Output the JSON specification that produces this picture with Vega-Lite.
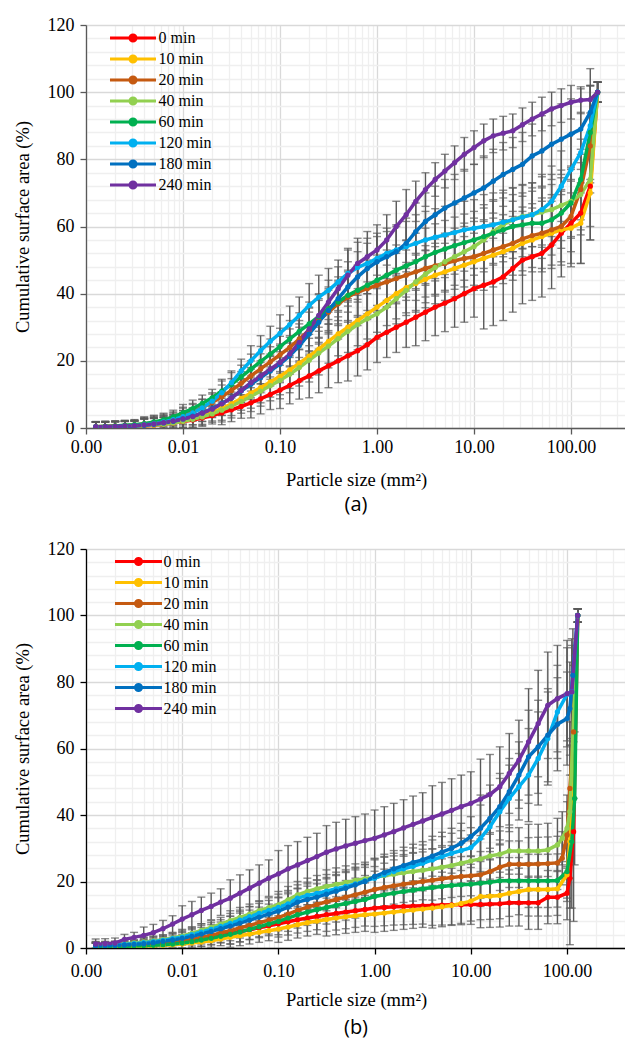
{
"$schema":"https://vega.github.io/schema/vega-lite/v6.json",
"background":"white",
"padding":{"left":13,"top":16,"right":0,"bottom":0},
"config":{"view":{"stroke":null},"font":"Liberation Serif"},
"columns":1,
"spacing":25,
"resolve":{"scale":{"color":"independent","x":"independent","y":"independent"},"legend":{"color":"independent"}},
"datasets":{
"a":[
{"s":0,"x":0.00126,"y":0.2,"e":1.5},{"s":0,"x":0.00158,"y":0.2,"e":1.5},{"s":0,"x":0.002,"y":0.3,"e":1.5},{"s":0,"x":0.00251,"y":0.4,"e":1.5},{"s":0,"x":0.00316,"y":0.5,"e":1.5},{"s":0,"x":0.00398,"y":0.6,"e":2},{"s":0,"x":0.00501,"y":0.8,"e":2},{"s":0,"x":0.00631,"y":1.1,"e":2},{"s":0,"x":0.00794,"y":1.5,"e":2},{"s":0,"x":0.01,"y":1.9,"e":2.5},{"s":0,"x":0.0126,"y":2.4,"e":2.5},{"s":0,"x":0.0158,"y":3,"e":2.5},{"s":0,"x":0.02,"y":3.7,"e":2.5},{"s":0,"x":0.0251,"y":4.5,"e":3.5},{"s":0,"x":0.0316,"y":5.4,"e":3.5},{"s":0,"x":0.0398,"y":6.4,"e":3.5},{"s":0,"x":0.0501,"y":7.5,"e":4.5},{"s":0,"x":0.0631,"y":8.7,"e":4.5},{"s":0,"x":0.0794,"y":10,"e":4.5},{"s":0,"x":0.1,"y":11.3,"e":5.5},{"s":0,"x":0.126,"y":12.7,"e":5.5},{"s":0,"x":0.158,"y":14.1,"e":5.5},{"s":0,"x":0.2,"y":15.5,"e":6.5},{"s":0,"x":0.251,"y":17,"e":6.5},{"s":0,"x":0.316,"y":18.5,"e":6.5},{"s":0,"x":0.398,"y":20,"e":6.5},{"s":0,"x":0.501,"y":21.5,"e":7.5},{"s":0,"x":0.631,"y":23,"e":7.5},{"s":0,"x":0.794,"y":24.8,"e":7.5},{"s":0,"x":1,"y":27,"e":7.5},{"s":0,"x":1.26,"y":28.5,"e":7.5},{"s":0,"x":1.58,"y":30,"e":7.5},{"s":0,"x":2,"y":31.5,"e":7.5},{"s":0,"x":2.51,"y":33,"e":8.5},{"s":0,"x":3.16,"y":34.5,"e":8.5},{"s":0,"x":3.98,"y":36,"e":8.5},{"s":0,"x":5.01,"y":37.2,"e":8.5},{"s":0,"x":6.31,"y":38.5,"e":8.5},{"s":0,"x":7.94,"y":40,"e":8.5},{"s":0,"x":10,"y":41.5,"e":8.5},{"s":0,"x":12.6,"y":42.5,"e":13},{"s":0,"x":15.8,"y":43.5,"e":13},{"s":0,"x":20,"y":45,"e":13},{"s":0,"x":25.1,"y":47.5,"e":13},{"s":0,"x":31.6,"y":50,"e":13},{"s":0,"x":39.8,"y":51,"e":13},{"s":0,"x":50.1,"y":52,"e":13},{"s":0,"x":63.1,"y":54.5,"e":13},{"s":0,"x":79.4,"y":58,"e":13},{"s":0,"x":100,"y":61,"e":13},{"s":0,"x":126,"y":64,"e":15},{"s":0,"x":158,"y":72,"e":16},{"s":0,"x":188,"y":100,"e":3},
{"s":10,"x":0.00126,"y":0.3,"e":1.5},{"s":10,"x":0.00158,"y":0.3,"e":1.5},{"s":10,"x":0.002,"y":0.4,"e":1.5},{"s":10,"x":0.00251,"y":0.5,"e":1.5},{"s":10,"x":0.00316,"y":0.6,"e":1.5},{"s":10,"x":0.00398,"y":0.7,"e":2},{"s":10,"x":0.00501,"y":0.9,"e":2},{"s":10,"x":0.00631,"y":1.2,"e":2},{"s":10,"x":0.00794,"y":1.6,"e":2},{"s":10,"x":0.01,"y":2.1,"e":2.5},{"s":10,"x":0.0126,"y":2.8,"e":2.5},{"s":10,"x":0.0158,"y":3.6,"e":2.5},{"s":10,"x":0.02,"y":4.6,"e":2.5},{"s":10,"x":0.0251,"y":5.8,"e":3.5},{"s":10,"x":0.0316,"y":7.2,"e":3.5},{"s":10,"x":0.0398,"y":8.8,"e":3.5},{"s":10,"x":0.0501,"y":10.4,"e":4.5},{"s":10,"x":0.0631,"y":12,"e":4.5},{"s":10,"x":0.0794,"y":13.7,"e":4.5},{"s":10,"x":0.1,"y":15.4,"e":5.5},{"s":10,"x":0.126,"y":17.3,"e":5.5},{"s":10,"x":0.158,"y":19.3,"e":5.5},{"s":10,"x":0.2,"y":21.4,"e":6.5},{"s":10,"x":0.251,"y":23.5,"e":6.5},{"s":10,"x":0.316,"y":25.8,"e":6.5},{"s":10,"x":0.398,"y":28,"e":6.5},{"s":10,"x":0.501,"y":30,"e":7.5},{"s":10,"x":0.631,"y":32,"e":7.5},{"s":10,"x":0.794,"y":34,"e":7.5},{"s":10,"x":1,"y":36,"e":7.5},{"s":10,"x":1.26,"y":38,"e":7.5},{"s":10,"x":1.58,"y":40,"e":7.5},{"s":10,"x":2,"y":41.8,"e":7.5},{"s":10,"x":2.51,"y":43,"e":8.5},{"s":10,"x":3.16,"y":44.3,"e":8.5},{"s":10,"x":3.98,"y":45.5,"e":8.5},{"s":10,"x":5.01,"y":46.5,"e":8.5},{"s":10,"x":6.31,"y":47.5,"e":8.5},{"s":10,"x":7.94,"y":48.5,"e":8.5},{"s":10,"x":10,"y":49.5,"e":8.5},{"s":10,"x":12.6,"y":50.5,"e":9.5},{"s":10,"x":15.8,"y":51.5,"e":9.5},{"s":10,"x":20,"y":52.5,"e":9.5},{"s":10,"x":25.1,"y":53.5,"e":9.5},{"s":10,"x":31.6,"y":55,"e":9.5},{"s":10,"x":39.8,"y":56,"e":9.5},{"s":10,"x":50.1,"y":57,"e":10.5},{"s":10,"x":63.1,"y":58,"e":10.5},{"s":10,"x":79.4,"y":59,"e":10.5},{"s":10,"x":100,"y":59.5,"e":10.5},{"s":10,"x":126,"y":61,"e":12},{"s":10,"x":158,"y":70,"e":14},{"s":10,"x":188,"y":100,"e":3},
{"s":20,"x":0.00126,"y":0.4,"e":1.5},{"s":20,"x":0.00158,"y":0.5,"e":1.5},{"s":20,"x":0.002,"y":0.6,"e":1.5},{"s":20,"x":0.00251,"y":0.7,"e":1.5},{"s":20,"x":0.00316,"y":0.9,"e":1.5},{"s":20,"x":0.00398,"y":1.2,"e":2},{"s":20,"x":0.00501,"y":1.6,"e":2},{"s":20,"x":0.00631,"y":2.1,"e":2},{"s":20,"x":0.00794,"y":2.8,"e":2},{"s":20,"x":0.01,"y":3.7,"e":2.5},{"s":20,"x":0.0126,"y":4.8,"e":2.5},{"s":20,"x":0.0158,"y":6.1,"e":2.5},{"s":20,"x":0.02,"y":7.6,"e":2.5},{"s":20,"x":0.0251,"y":9.3,"e":3.5},{"s":20,"x":0.0316,"y":11.2,"e":3.5},{"s":20,"x":0.0398,"y":13.3,"e":3.5},{"s":20,"x":0.0501,"y":15.5,"e":4.5},{"s":20,"x":0.0631,"y":17.6,"e":4.5},{"s":20,"x":0.0794,"y":19.7,"e":4.5},{"s":20,"x":0.1,"y":21.8,"e":5.5},{"s":20,"x":0.126,"y":24,"e":5.5},{"s":20,"x":0.158,"y":26.5,"e":5.5},{"s":20,"x":0.2,"y":29.2,"e":6.5},{"s":20,"x":0.251,"y":32,"e":6.5},{"s":20,"x":0.316,"y":34.5,"e":6.5},{"s":20,"x":0.398,"y":37,"e":6.5},{"s":20,"x":0.501,"y":39,"e":7.5},{"s":20,"x":0.631,"y":40.5,"e":7.5},{"s":20,"x":0.794,"y":41.5,"e":7.5},{"s":20,"x":1,"y":42.5,"e":7.5},{"s":20,"x":1.26,"y":43.5,"e":7.5},{"s":20,"x":1.58,"y":44.5,"e":7.5},{"s":20,"x":2,"y":45.5,"e":7.5},{"s":20,"x":2.51,"y":46.5,"e":8.5},{"s":20,"x":3.16,"y":47.5,"e":8.5},{"s":20,"x":3.98,"y":48.3,"e":8.5},{"s":20,"x":5.01,"y":49,"e":8.5},{"s":20,"x":6.31,"y":49.8,"e":8.5},{"s":20,"x":7.94,"y":50.5,"e":8.5},{"s":20,"x":10,"y":51,"e":8.5},{"s":20,"x":12.6,"y":52,"e":9.5},{"s":20,"x":15.8,"y":53,"e":9.5},{"s":20,"x":20,"y":54,"e":9.5},{"s":20,"x":25.1,"y":55,"e":9.5},{"s":20,"x":31.6,"y":56.3,"e":9.5},{"s":20,"x":39.8,"y":57.3,"e":9.5},{"s":20,"x":50.1,"y":58,"e":10.5},{"s":20,"x":63.1,"y":59,"e":10.5},{"s":20,"x":79.4,"y":60,"e":10.5},{"s":20,"x":100,"y":63,"e":10.5},{"s":20,"x":126,"y":71,"e":12},{"s":20,"x":158,"y":84,"e":14},{"s":20,"x":188,"y":100,"e":3},
{"s":40,"x":0.00126,"y":0.3,"e":1.5},{"s":40,"x":0.00158,"y":0.3,"e":1.5},{"s":40,"x":0.002,"y":0.4,"e":1.5},{"s":40,"x":0.00251,"y":0.5,"e":1.5},{"s":40,"x":0.00316,"y":0.6,"e":1.5},{"s":40,"x":0.00398,"y":0.7,"e":2},{"s":40,"x":0.00501,"y":0.9,"e":2},{"s":40,"x":0.00631,"y":1.1,"e":2},{"s":40,"x":0.00794,"y":1.5,"e":2},{"s":40,"x":0.01,"y":2,"e":2.5},{"s":40,"x":0.0126,"y":2.6,"e":2.5},{"s":40,"x":0.0158,"y":3.3,"e":2.5},{"s":40,"x":0.02,"y":4.2,"e":2.5},{"s":40,"x":0.0251,"y":5.3,"e":3.5},{"s":40,"x":0.0316,"y":6.5,"e":3.5},{"s":40,"x":0.0398,"y":7.9,"e":3.5},{"s":40,"x":0.0501,"y":9.4,"e":4.5},{"s":40,"x":0.0631,"y":11,"e":4.5},{"s":40,"x":0.0794,"y":12.6,"e":4.5},{"s":40,"x":0.1,"y":14.2,"e":5.5},{"s":40,"x":0.126,"y":16,"e":5.5},{"s":40,"x":0.158,"y":18,"e":5.5},{"s":40,"x":0.2,"y":20.2,"e":6.5},{"s":40,"x":0.251,"y":22.3,"e":6.5},{"s":40,"x":0.316,"y":24.4,"e":6.5},{"s":40,"x":0.398,"y":26.6,"e":6.5},{"s":40,"x":0.501,"y":28.8,"e":7.5},{"s":40,"x":0.631,"y":30.8,"e":7.5},{"s":40,"x":0.794,"y":32.5,"e":7.5},{"s":40,"x":1,"y":34,"e":7.5},{"s":40,"x":1.26,"y":36,"e":7.5},{"s":40,"x":1.58,"y":38.5,"e":7.5},{"s":40,"x":2,"y":41,"e":7.5},{"s":40,"x":2.51,"y":43.5,"e":8.5},{"s":40,"x":3.16,"y":45.8,"e":8.5},{"s":40,"x":3.98,"y":47.8,"e":8.5},{"s":40,"x":5.01,"y":49.5,"e":8.5},{"s":40,"x":6.31,"y":51,"e":8.5},{"s":40,"x":7.94,"y":52.5,"e":8.5},{"s":40,"x":10,"y":54,"e":8.5},{"s":40,"x":12.6,"y":56,"e":9.5},{"s":40,"x":15.8,"y":58.5,"e":9.5},{"s":40,"x":20,"y":60.5,"e":9.5},{"s":40,"x":25.1,"y":62,"e":9.5},{"s":40,"x":31.6,"y":63,"e":9.5},{"s":40,"x":39.8,"y":63.5,"e":9.5},{"s":40,"x":50.1,"y":64.3,"e":10.5},{"s":40,"x":63.1,"y":65,"e":10.5},{"s":40,"x":79.4,"y":66.3,"e":10.5},{"s":40,"x":100,"y":67.5,"e":10.5},{"s":40,"x":126,"y":69.5,"e":12},{"s":40,"x":158,"y":74,"e":14},{"s":40,"x":188,"y":100,"e":3},
{"s":60,"x":0.00126,"y":0.4,"e":1.5},{"s":60,"x":0.00158,"y":0.5,"e":1.5},{"s":60,"x":0.002,"y":0.6,"e":1.5},{"s":60,"x":0.00251,"y":0.8,"e":1.5},{"s":60,"x":0.00316,"y":1,"e":1.5},{"s":60,"x":0.00398,"y":1.3,"e":2},{"s":60,"x":0.00501,"y":1.8,"e":2},{"s":60,"x":0.00631,"y":2.4,"e":2},{"s":60,"x":0.00794,"y":3.3,"e":2},{"s":60,"x":0.01,"y":4.5,"e":2.5},{"s":60,"x":0.0126,"y":5.8,"e":2.5},{"s":60,"x":0.0158,"y":7.3,"e":2.5},{"s":60,"x":0.02,"y":9,"e":2.5},{"s":60,"x":0.0251,"y":11,"e":3.5},{"s":60,"x":0.0316,"y":13,"e":3.5},{"s":60,"x":0.0398,"y":15.2,"e":3.5},{"s":60,"x":0.0501,"y":17.5,"e":4.5},{"s":60,"x":0.0631,"y":19.8,"e":4.5},{"s":60,"x":0.0794,"y":22,"e":4.5},{"s":60,"x":0.1,"y":24.2,"e":5.5},{"s":60,"x":0.126,"y":26.5,"e":5.5},{"s":60,"x":0.158,"y":28.8,"e":5.5},{"s":60,"x":0.2,"y":31,"e":6.5},{"s":60,"x":0.251,"y":33.2,"e":6.5},{"s":60,"x":0.316,"y":35.5,"e":6.5},{"s":60,"x":0.398,"y":37.5,"e":6.5},{"s":60,"x":0.501,"y":39.5,"e":7.5},{"s":60,"x":0.631,"y":41,"e":7.5},{"s":60,"x":0.794,"y":42.5,"e":7.5},{"s":60,"x":1,"y":44,"e":7.5},{"s":60,"x":1.26,"y":45.5,"e":7.5},{"s":60,"x":1.58,"y":47,"e":7.5},{"s":60,"x":2,"y":48.3,"e":7.5},{"s":60,"x":2.51,"y":49.5,"e":8.5},{"s":60,"x":3.16,"y":51,"e":8.5},{"s":60,"x":3.98,"y":52.3,"e":8.5},{"s":60,"x":5.01,"y":53.3,"e":8.5},{"s":60,"x":6.31,"y":54.3,"e":8.5},{"s":60,"x":7.94,"y":55.2,"e":8.5},{"s":60,"x":10,"y":56,"e":8.5},{"s":60,"x":12.6,"y":57,"e":9.5},{"s":60,"x":15.8,"y":58,"e":9.5},{"s":60,"x":20,"y":59,"e":9.5},{"s":60,"x":25.1,"y":60,"e":9.5},{"s":60,"x":31.6,"y":60.5,"e":9.5},{"s":60,"x":39.8,"y":61,"e":9.5},{"s":60,"x":50.1,"y":61,"e":10.5},{"s":60,"x":63.1,"y":62,"e":10.5},{"s":60,"x":79.4,"y":64,"e":10.5},{"s":60,"x":100,"y":67,"e":10.5},{"s":60,"x":126,"y":74,"e":12},{"s":60,"x":158,"y":88,"e":14},{"s":60,"x":188,"y":100,"e":3},
{"s":120,"x":0.00126,"y":0.3,"e":1.5},{"s":120,"x":0.00158,"y":0.3,"e":1.5},{"s":120,"x":0.002,"y":0.4,"e":1.5},{"s":120,"x":0.00251,"y":0.5,"e":1.5},{"s":120,"x":0.00316,"y":0.7,"e":1.5},{"s":120,"x":0.00398,"y":0.9,"e":2},{"s":120,"x":0.00501,"y":1.3,"e":2},{"s":120,"x":0.00631,"y":1.8,"e":2},{"s":120,"x":0.00794,"y":2.5,"e":2},{"s":120,"x":0.01,"y":3.4,"e":2.5},{"s":120,"x":0.0126,"y":4.5,"e":2.5},{"s":120,"x":0.0158,"y":6,"e":2.5},{"s":120,"x":0.02,"y":8,"e":2.5},{"s":120,"x":0.0251,"y":10.5,"e":3.5},{"s":120,"x":0.0316,"y":13.5,"e":3.5},{"s":120,"x":0.0398,"y":17,"e":3.5},{"s":120,"x":0.0501,"y":20,"e":4.5},{"s":120,"x":0.0631,"y":23,"e":4.5},{"s":120,"x":0.0794,"y":25.8,"e":4.5},{"s":120,"x":0.1,"y":28.2,"e":5.5},{"s":120,"x":0.126,"y":30.8,"e":5.5},{"s":120,"x":0.158,"y":33.5,"e":5.5},{"s":120,"x":0.2,"y":36.5,"e":6.5},{"s":120,"x":0.251,"y":39,"e":6.5},{"s":120,"x":0.316,"y":41,"e":6.5},{"s":120,"x":0.398,"y":43.5,"e":6.5},{"s":120,"x":0.501,"y":46,"e":7.5},{"s":120,"x":0.631,"y":47.8,"e":7.5},{"s":120,"x":0.794,"y":49,"e":7.5},{"s":120,"x":1,"y":50.5,"e":7.5},{"s":120,"x":1.26,"y":52,"e":7.5},{"s":120,"x":1.58,"y":53,"e":7.5},{"s":120,"x":2,"y":54,"e":7.5},{"s":120,"x":2.51,"y":55,"e":8.5},{"s":120,"x":3.16,"y":56,"e":8.5},{"s":120,"x":3.98,"y":56.8,"e":8.5},{"s":120,"x":5.01,"y":57.5,"e":8.5},{"s":120,"x":6.31,"y":58.2,"e":8.5},{"s":120,"x":7.94,"y":59,"e":8.5},{"s":120,"x":10,"y":59.5,"e":8.5},{"s":120,"x":12.6,"y":60,"e":9.5},{"s":120,"x":15.8,"y":60.5,"e":9.5},{"s":120,"x":20,"y":61.3,"e":9.5},{"s":120,"x":25.1,"y":62,"e":9.5},{"s":120,"x":31.6,"y":62.8,"e":9.5},{"s":120,"x":39.8,"y":63.5,"e":9.5},{"s":120,"x":50.1,"y":65,"e":10.5},{"s":120,"x":63.1,"y":67.5,"e":10.5},{"s":120,"x":79.4,"y":72,"e":10.5},{"s":120,"x":100,"y":77,"e":10.5},{"s":120,"x":126,"y":82,"e":12},{"s":120,"x":158,"y":90,"e":17},{"s":120,"x":188,"y":100,"e":3},
{"s":180,"x":0.00126,"y":0.2,"e":1.5},{"s":180,"x":0.00158,"y":0.3,"e":1.5},{"s":180,"x":0.002,"y":0.4,"e":1.5},{"s":180,"x":0.00251,"y":0.5,"e":1.5},{"s":180,"x":0.00316,"y":0.6,"e":1.5},{"s":180,"x":0.00398,"y":0.8,"e":2},{"s":180,"x":0.00501,"y":1.1,"e":2},{"s":180,"x":0.00631,"y":1.5,"e":2},{"s":180,"x":0.00794,"y":2,"e":2},{"s":180,"x":0.01,"y":2.7,"e":2.5},{"s":180,"x":0.0126,"y":3.5,"e":2.5},{"s":180,"x":0.0158,"y":4.5,"e":2.5},{"s":180,"x":0.02,"y":5.8,"e":2.5},{"s":180,"x":0.0251,"y":7.3,"e":3.5},{"s":180,"x":0.0316,"y":9,"e":3.5},{"s":180,"x":0.0398,"y":11,"e":3.5},{"s":180,"x":0.0501,"y":13,"e":4.5},{"s":180,"x":0.0631,"y":15,"e":4.5},{"s":180,"x":0.0794,"y":17,"e":4.5},{"s":180,"x":0.1,"y":19,"e":5.5},{"s":180,"x":0.126,"y":21.5,"e":5.5},{"s":180,"x":0.158,"y":24.5,"e":5.5},{"s":180,"x":0.2,"y":28,"e":6.5},{"s":180,"x":0.251,"y":31.5,"e":6.5},{"s":180,"x":0.316,"y":35,"e":6.5},{"s":180,"x":0.398,"y":38.5,"e":6.5},{"s":180,"x":0.501,"y":42,"e":7.5},{"s":180,"x":0.631,"y":45,"e":7.5},{"s":180,"x":0.794,"y":47.5,"e":7.5},{"s":180,"x":1,"y":49.5,"e":7.5},{"s":180,"x":1.26,"y":51,"e":7.5},{"s":180,"x":1.58,"y":52.5,"e":7.5},{"s":180,"x":2,"y":55,"e":7.5},{"s":180,"x":2.51,"y":58.5,"e":8.5},{"s":180,"x":3.16,"y":61.5,"e":8.5},{"s":180,"x":3.98,"y":63.5,"e":8.5},{"s":180,"x":5.01,"y":65.5,"e":8.5},{"s":180,"x":6.31,"y":67,"e":8.5},{"s":180,"x":7.94,"y":68.5,"e":8.5},{"s":180,"x":10,"y":70,"e":8.5},{"s":180,"x":12.6,"y":71.5,"e":9.5},{"s":180,"x":15.8,"y":73.5,"e":9.5},{"s":180,"x":20,"y":75.5,"e":9.5},{"s":180,"x":25.1,"y":77,"e":9.5},{"s":180,"x":31.6,"y":78.5,"e":9.5},{"s":180,"x":39.8,"y":81,"e":9.5},{"s":180,"x":50.1,"y":82.5,"e":10.5},{"s":180,"x":63.1,"y":84.5,"e":10.5},{"s":180,"x":79.4,"y":86,"e":10.5},{"s":180,"x":100,"y":87.5,"e":10.5},{"s":180,"x":126,"y":89,"e":12},{"s":180,"x":158,"y":94,"e":8},{"s":180,"x":188,"y":100,"e":3},
{"s":240,"x":0.00126,"y":0.4,"e":1.5},{"s":240,"x":0.00158,"y":0.4,"e":1.5},{"s":240,"x":0.002,"y":0.5,"e":1.5},{"s":240,"x":0.00251,"y":0.6,"e":1.5},{"s":240,"x":0.00316,"y":0.7,"e":1.5},{"s":240,"x":0.00398,"y":0.9,"e":2},{"s":240,"x":0.00501,"y":1.2,"e":2},{"s":240,"x":0.00631,"y":1.6,"e":2},{"s":240,"x":0.00794,"y":2.1,"e":2},{"s":240,"x":0.01,"y":2.7,"e":2.5},{"s":240,"x":0.0126,"y":3.4,"e":2.5},{"s":240,"x":0.0158,"y":4.4,"e":2.5},{"s":240,"x":0.02,"y":5.6,"e":2.5},{"s":240,"x":0.0251,"y":7.2,"e":3.5},{"s":240,"x":0.0316,"y":9,"e":3.5},{"s":240,"x":0.0398,"y":11.2,"e":3.5},{"s":240,"x":0.0501,"y":13.5,"e":4.5},{"s":240,"x":0.0631,"y":15.5,"e":4.5},{"s":240,"x":0.0794,"y":17.5,"e":4.5},{"s":240,"x":0.1,"y":19.5,"e":5.5},{"s":240,"x":0.126,"y":22,"e":5.5},{"s":240,"x":0.158,"y":25.5,"e":5.5},{"s":240,"x":0.2,"y":29.5,"e":6.5},{"s":240,"x":0.251,"y":33.5,"e":6.5},{"s":240,"x":0.316,"y":37.5,"e":6.5},{"s":240,"x":0.398,"y":41.5,"e":6.5},{"s":240,"x":0.501,"y":45.5,"e":7.5},{"s":240,"x":0.631,"y":49,"e":7.5},{"s":240,"x":0.794,"y":51,"e":7.5},{"s":240,"x":1,"y":53,"e":7.5},{"s":240,"x":1.26,"y":56,"e":7.5},{"s":240,"x":1.58,"y":60,"e":7.5},{"s":240,"x":2,"y":63.5,"e":7.5},{"s":240,"x":2.51,"y":67.5,"e":6},{"s":240,"x":3.16,"y":71,"e":5},{"s":240,"x":3.98,"y":74,"e":5},{"s":240,"x":5.01,"y":76.5,"e":5},{"s":240,"x":6.31,"y":79,"e":5},{"s":240,"x":7.94,"y":81.5,"e":5},{"s":240,"x":10,"y":83.5,"e":5},{"s":240,"x":12.6,"y":85.5,"e":5},{"s":240,"x":15.8,"y":87,"e":5},{"s":240,"x":20,"y":87.8,"e":5},{"s":240,"x":25.1,"y":88.5,"e":5},{"s":240,"x":31.6,"y":90.3,"e":5},{"s":240,"x":39.8,"y":92,"e":5},{"s":240,"x":50.1,"y":93.5,"e":5},{"s":240,"x":63.1,"y":95,"e":5},{"s":240,"x":79.4,"y":96,"e":5},{"s":240,"x":100,"y":97,"e":5},{"s":240,"x":126,"y":97.6,"e":4},{"s":240,"x":158,"y":97.8,"e":4},{"s":240,"x":188,"y":100,"e":3}
],
"b":[
{"s":0,"x":0.00126,"y":0.5,"e":1},{"s":0,"x":0.00158,"y":0.5,"e":1},{"s":0,"x":0.002,"y":0.5,"e":1},{"s":0,"x":0.00251,"y":0.6,"e":1},{"s":0,"x":0.00316,"y":0.7,"e":1},{"s":0,"x":0.00398,"y":0.8,"e":1.5},{"s":0,"x":0.00501,"y":0.9,"e":1.5},{"s":0,"x":0.00631,"y":1.1,"e":1.5},{"s":0,"x":0.00794,"y":1.4,"e":1.5},{"s":0,"x":0.01,"y":1.7,"e":2},{"s":0,"x":0.0126,"y":2.1,"e":2},{"s":0,"x":0.0158,"y":2.6,"e":2},{"s":0,"x":0.02,"y":3.1,"e":2},{"s":0,"x":0.0251,"y":3.7,"e":2},{"s":0,"x":0.0316,"y":4.3,"e":3},{"s":0,"x":0.0398,"y":4.9,"e":3},{"s":0,"x":0.0501,"y":5.5,"e":3},{"s":0,"x":0.0631,"y":6.1,"e":3},{"s":0,"x":0.0794,"y":6.7,"e":3},{"s":0,"x":0.1,"y":7.3,"e":4},{"s":0,"x":0.126,"y":7.9,"e":4},{"s":0,"x":0.158,"y":8.5,"e":4},{"s":0,"x":0.2,"y":9,"e":4},{"s":0,"x":0.251,"y":9.5,"e":4},{"s":0,"x":0.316,"y":10,"e":5},{"s":0,"x":0.398,"y":10.4,"e":5},{"s":0,"x":0.501,"y":10.8,"e":5},{"s":0,"x":0.631,"y":11.2,"e":5},{"s":0,"x":0.794,"y":11.6,"e":5},{"s":0,"x":1,"y":12,"e":5.5},{"s":0,"x":1.26,"y":12.2,"e":5.5},{"s":0,"x":1.58,"y":12.4,"e":5.5},{"s":0,"x":2,"y":12.5,"e":5.5},{"s":0,"x":2.51,"y":12.6,"e":5.5},{"s":0,"x":3.16,"y":12.7,"e":5.5},{"s":0,"x":3.98,"y":12.8,"e":6},{"s":0,"x":5.01,"y":12.9,"e":6},{"s":0,"x":6.31,"y":13,"e":6},{"s":0,"x":7.94,"y":13,"e":6},{"s":0,"x":10,"y":13.1,"e":6},{"s":0,"x":12.6,"y":13.1,"e":7},{"s":0,"x":15.8,"y":13.2,"e":7},{"s":0,"x":20,"y":13.3,"e":7},{"s":0,"x":25.1,"y":13.6,"e":7},{"s":0,"x":31.6,"y":13.6,"e":7},{"s":0,"x":39.8,"y":13.6,"e":8},{"s":0,"x":50.1,"y":13.6,"e":8},{"s":0,"x":63.1,"y":15.3,"e":8},{"s":0,"x":79.4,"y":15.3,"e":8},{"s":0,"x":100,"y":16.5,"e":8},{"s":0,"x":107,"y":21,"e":20},{"s":0,"x":117,"y":35,"e":27},{"s":0,"x":129,"y":100,"e":2},
{"s":10,"x":0.00126,"y":0.4,"e":1},{"s":10,"x":0.00158,"y":0.4,"e":1},{"s":10,"x":0.002,"y":0.4,"e":1},{"s":10,"x":0.00251,"y":0.5,"e":1},{"s":10,"x":0.00316,"y":0.5,"e":1},{"s":10,"x":0.00398,"y":0.6,"e":1.5},{"s":10,"x":0.00501,"y":0.7,"e":1.5},{"s":10,"x":0.00631,"y":0.8,"e":1.5},{"s":10,"x":0.00794,"y":1,"e":1.5},{"s":10,"x":0.01,"y":1.2,"e":2},{"s":10,"x":0.0126,"y":1.5,"e":2},{"s":10,"x":0.0158,"y":1.8,"e":2},{"s":10,"x":0.02,"y":2.2,"e":2},{"s":10,"x":0.0251,"y":2.7,"e":2},{"s":10,"x":0.0316,"y":3.2,"e":3},{"s":10,"x":0.0398,"y":3.7,"e":3},{"s":10,"x":0.0501,"y":4.2,"e":3},{"s":10,"x":0.0631,"y":4.7,"e":3},{"s":10,"x":0.0794,"y":5.2,"e":3},{"s":10,"x":0.1,"y":5.7,"e":4},{"s":10,"x":0.126,"y":6.3,"e":4},{"s":10,"x":0.158,"y":7,"e":4},{"s":10,"x":0.2,"y":7.6,"e":4},{"s":10,"x":0.251,"y":8.1,"e":4},{"s":10,"x":0.316,"y":8.6,"e":5},{"s":10,"x":0.398,"y":9,"e":5},{"s":10,"x":0.501,"y":9.4,"e":5},{"s":10,"x":0.631,"y":9.7,"e":5},{"s":10,"x":0.794,"y":10,"e":5},{"s":10,"x":1,"y":10.2,"e":5.5},{"s":10,"x":1.26,"y":10.5,"e":5.5},{"s":10,"x":1.58,"y":10.8,"e":5.5},{"s":10,"x":2,"y":11.1,"e":5.5},{"s":10,"x":2.51,"y":11.4,"e":5.5},{"s":10,"x":3.16,"y":11.7,"e":5.5},{"s":10,"x":3.98,"y":12,"e":6},{"s":10,"x":5.01,"y":12.4,"e":6},{"s":10,"x":6.31,"y":12.8,"e":6},{"s":10,"x":7.94,"y":13.4,"e":6},{"s":10,"x":10,"y":14.1,"e":6},{"s":10,"x":12.6,"y":15.5,"e":7},{"s":10,"x":15.8,"y":15.6,"e":7},{"s":10,"x":20,"y":15.8,"e":7},{"s":10,"x":25.1,"y":16.5,"e":7},{"s":10,"x":31.6,"y":17,"e":7},{"s":10,"x":39.8,"y":17.6,"e":8},{"s":10,"x":50.1,"y":17.6,"e":8},{"s":10,"x":63.1,"y":17.6,"e":8},{"s":10,"x":79.4,"y":17.8,"e":8},{"s":10,"x":100,"y":22,"e":8},{"s":10,"x":107,"y":32,"e":20},{"s":10,"x":129,"y":100,"e":2},
{"s":20,"x":0.00126,"y":0.6,"e":1},{"s":20,"x":0.00158,"y":0.6,"e":1},{"s":20,"x":0.002,"y":0.7,"e":1},{"s":20,"x":0.00251,"y":0.8,"e":1},{"s":20,"x":0.00316,"y":0.9,"e":1},{"s":20,"x":0.00398,"y":1,"e":1.5},{"s":20,"x":0.00501,"y":1.2,"e":1.5},{"s":20,"x":0.00631,"y":1.4,"e":1.5},{"s":20,"x":0.00794,"y":1.7,"e":1.5},{"s":20,"x":0.01,"y":2.1,"e":2},{"s":20,"x":0.0126,"y":2.6,"e":2},{"s":20,"x":0.0158,"y":3.2,"e":2},{"s":20,"x":0.02,"y":3.8,"e":2},{"s":20,"x":0.0251,"y":4.5,"e":2},{"s":20,"x":0.0316,"y":5.2,"e":3},{"s":20,"x":0.0398,"y":6,"e":3},{"s":20,"x":0.0501,"y":6.8,"e":3},{"s":20,"x":0.0631,"y":7.6,"e":3},{"s":20,"x":0.0794,"y":8.4,"e":3},{"s":20,"x":0.1,"y":9.2,"e":4},{"s":20,"x":0.126,"y":10.2,"e":4},{"s":20,"x":0.158,"y":11.3,"e":4},{"s":20,"x":0.2,"y":12.3,"e":4},{"s":20,"x":0.251,"y":13.1,"e":4},{"s":20,"x":0.316,"y":13.9,"e":5},{"s":20,"x":0.398,"y":14.6,"e":5},{"s":20,"x":0.501,"y":15.3,"e":5},{"s":20,"x":0.631,"y":16,"e":5},{"s":20,"x":0.794,"y":16.8,"e":5},{"s":20,"x":1,"y":17.6,"e":5.5},{"s":20,"x":1.26,"y":18.2,"e":5.5},{"s":20,"x":1.58,"y":18.7,"e":5.5},{"s":20,"x":2,"y":19.2,"e":5.5},{"s":20,"x":2.51,"y":19.6,"e":5.5},{"s":20,"x":3.16,"y":20,"e":5.5},{"s":20,"x":3.98,"y":20.4,"e":6},{"s":20,"x":5.01,"y":20.8,"e":6},{"s":20,"x":6.31,"y":21.2,"e":6},{"s":20,"x":7.94,"y":21.5,"e":6},{"s":20,"x":10,"y":21.7,"e":6},{"s":20,"x":12.6,"y":22,"e":7},{"s":20,"x":15.8,"y":23,"e":7},{"s":20,"x":20,"y":24.3,"e":7},{"s":20,"x":25.1,"y":25.2,"e":7},{"s":20,"x":31.6,"y":25.2,"e":7},{"s":20,"x":39.8,"y":25.2,"e":8},{"s":20,"x":50.1,"y":25.3,"e":8},{"s":20,"x":63.1,"y":25.4,"e":8},{"s":20,"x":79.4,"y":25.6,"e":8},{"s":20,"x":89.1,"y":27,"e":8},{"s":20,"x":100,"y":34,"e":10},{"s":20,"x":107,"y":48,"e":20},{"s":20,"x":117,"y":65,"e":20},{"s":20,"x":129,"y":100,"e":2},
{"s":40,"x":0.00126,"y":1,"e":1},{"s":40,"x":0.00158,"y":1,"e":1},{"s":40,"x":0.002,"y":1.1,"e":1},{"s":40,"x":0.00251,"y":1.3,"e":1},{"s":40,"x":0.00316,"y":1.5,"e":1},{"s":40,"x":0.00398,"y":1.8,"e":1.5},{"s":40,"x":0.00501,"y":2.1,"e":1.5},{"s":40,"x":0.00631,"y":2.5,"e":1.5},{"s":40,"x":0.00794,"y":3,"e":1.5},{"s":40,"x":0.01,"y":3.6,"e":2},{"s":40,"x":0.0126,"y":4.4,"e":2},{"s":40,"x":0.0158,"y":5.3,"e":2},{"s":40,"x":0.02,"y":6.2,"e":2},{"s":40,"x":0.0251,"y":7.2,"e":2},{"s":40,"x":0.0316,"y":8.2,"e":3},{"s":40,"x":0.0398,"y":9.2,"e":3},{"s":40,"x":0.0501,"y":10.2,"e":3},{"s":40,"x":0.0631,"y":11.2,"e":3},{"s":40,"x":0.0794,"y":12.1,"e":3},{"s":40,"x":0.1,"y":13,"e":4},{"s":40,"x":0.126,"y":14.5,"e":4},{"s":40,"x":0.158,"y":16,"e":4},{"s":40,"x":0.2,"y":17,"e":4},{"s":40,"x":0.251,"y":17.8,"e":4},{"s":40,"x":0.316,"y":18.5,"e":5},{"s":40,"x":0.398,"y":19.1,"e":5},{"s":40,"x":0.501,"y":19.7,"e":5},{"s":40,"x":0.631,"y":20.3,"e":5},{"s":40,"x":0.794,"y":20.8,"e":5},{"s":40,"x":1,"y":21.3,"e":5.5},{"s":40,"x":1.26,"y":21.8,"e":5.5},{"s":40,"x":1.58,"y":22.2,"e":5.5},{"s":40,"x":2,"y":22.6,"e":5.5},{"s":40,"x":2.51,"y":23,"e":5.5},{"s":40,"x":3.16,"y":23.4,"e":5.5},{"s":40,"x":3.98,"y":23.8,"e":6},{"s":40,"x":5.01,"y":24.3,"e":6},{"s":40,"x":6.31,"y":24.8,"e":6},{"s":40,"x":7.94,"y":25.5,"e":6},{"s":40,"x":10,"y":26.2,"e":6},{"s":40,"x":12.6,"y":26.8,"e":7},{"s":40,"x":15.8,"y":27.7,"e":7},{"s":40,"x":20,"y":28.2,"e":7},{"s":40,"x":25.1,"y":29.2,"e":7},{"s":40,"x":31.6,"y":29.2,"e":7},{"s":40,"x":39.8,"y":29.2,"e":8},{"s":40,"x":50.1,"y":29.2,"e":8},{"s":40,"x":63.1,"y":29.5,"e":8},{"s":40,"x":79.4,"y":31,"e":8},{"s":40,"x":89.1,"y":33,"e":8},{"s":40,"x":100,"y":36,"e":10},{"s":40,"x":107,"y":41,"e":20},{"s":40,"x":129,"y":100,"e":2},
{"s":60,"x":0.00126,"y":0.4,"e":1},{"s":60,"x":0.00158,"y":0.4,"e":1},{"s":60,"x":0.002,"y":0.5,"e":1},{"s":60,"x":0.00251,"y":0.5,"e":1},{"s":60,"x":0.00316,"y":0.6,"e":1},{"s":60,"x":0.00398,"y":0.7,"e":1.5},{"s":60,"x":0.00501,"y":0.8,"e":1.5},{"s":60,"x":0.00631,"y":1,"e":1.5},{"s":60,"x":0.00794,"y":1.2,"e":1.5},{"s":60,"x":0.01,"y":1.5,"e":2},{"s":60,"x":0.0126,"y":1.9,"e":2},{"s":60,"x":0.0158,"y":2.4,"e":2},{"s":60,"x":0.02,"y":2.9,"e":2},{"s":60,"x":0.0251,"y":3.5,"e":2},{"s":60,"x":0.0316,"y":4.1,"e":3},{"s":60,"x":0.0398,"y":4.8,"e":3},{"s":60,"x":0.0501,"y":5.6,"e":3},{"s":60,"x":0.0631,"y":6.4,"e":3},{"s":60,"x":0.0794,"y":7.2,"e":3},{"s":60,"x":0.1,"y":8,"e":4},{"s":60,"x":0.126,"y":9,"e":4},{"s":60,"x":0.158,"y":10,"e":4},{"s":60,"x":0.2,"y":10.8,"e":4},{"s":60,"x":0.251,"y":11.5,"e":4},{"s":60,"x":0.316,"y":12.2,"e":5},{"s":60,"x":0.398,"y":12.8,"e":5},{"s":60,"x":0.501,"y":13.4,"e":5},{"s":60,"x":0.631,"y":14,"e":5},{"s":60,"x":0.794,"y":14.6,"e":5},{"s":60,"x":1,"y":15.5,"e":5.5},{"s":60,"x":1.26,"y":16,"e":5.5},{"s":60,"x":1.58,"y":16.5,"e":5.5},{"s":60,"x":2,"y":17,"e":5.5},{"s":60,"x":2.51,"y":17.4,"e":5.5},{"s":60,"x":3.16,"y":17.8,"e":5.5},{"s":60,"x":3.98,"y":18.2,"e":6},{"s":60,"x":5.01,"y":18.5,"e":6},{"s":60,"x":6.31,"y":18.8,"e":6},{"s":60,"x":7.94,"y":19,"e":6},{"s":60,"x":10,"y":19.2,"e":6},{"s":60,"x":12.6,"y":19.5,"e":7},{"s":60,"x":15.8,"y":19.8,"e":7},{"s":60,"x":20,"y":20.2,"e":7},{"s":60,"x":25.1,"y":20.2,"e":7},{"s":60,"x":31.6,"y":20.2,"e":7},{"s":60,"x":39.8,"y":20.2,"e":8},{"s":60,"x":50.1,"y":20.2,"e":8},{"s":60,"x":63.1,"y":20.2,"e":8},{"s":60,"x":79.4,"y":20.3,"e":8},{"s":60,"x":100,"y":23,"e":8},{"s":60,"x":112,"y":32,"e":20},{"s":60,"x":120,"y":45,"e":20},{"s":60,"x":129,"y":100,"e":2},
{"s":120,"x":0.00126,"y":0.8,"e":1},{"s":120,"x":0.00158,"y":0.8,"e":1},{"s":120,"x":0.002,"y":0.9,"e":1},{"s":120,"x":0.00251,"y":1.1,"e":1},{"s":120,"x":0.00316,"y":1.3,"e":1},{"s":120,"x":0.00398,"y":1.6,"e":1.5},{"s":120,"x":0.00501,"y":1.9,"e":1.5},{"s":120,"x":0.00631,"y":2.3,"e":1.5},{"s":120,"x":0.00794,"y":2.8,"e":1.5},{"s":120,"x":0.01,"y":3.3,"e":2},{"s":120,"x":0.0126,"y":4,"e":2},{"s":120,"x":0.0158,"y":4.8,"e":2},{"s":120,"x":0.02,"y":5.6,"e":2},{"s":120,"x":0.0251,"y":6.5,"e":2},{"s":120,"x":0.0316,"y":7.4,"e":3},{"s":120,"x":0.0398,"y":8.4,"e":3},{"s":120,"x":0.0501,"y":9.4,"e":3},{"s":120,"x":0.0631,"y":10.4,"e":3},{"s":120,"x":0.0794,"y":11.3,"e":3},{"s":120,"x":0.1,"y":12.2,"e":4},{"s":120,"x":0.126,"y":13.3,"e":4},{"s":120,"x":0.158,"y":15,"e":4},{"s":120,"x":0.2,"y":15.8,"e":4},{"s":120,"x":0.251,"y":16.4,"e":4},{"s":120,"x":0.316,"y":17.1,"e":5},{"s":120,"x":0.398,"y":17.8,"e":5},{"s":120,"x":0.501,"y":18.5,"e":5},{"s":120,"x":0.631,"y":19.3,"e":5},{"s":120,"x":0.794,"y":20.2,"e":5},{"s":120,"x":1,"y":21,"e":5.5},{"s":120,"x":1.26,"y":22,"e":5.5},{"s":120,"x":1.58,"y":23,"e":5.5},{"s":120,"x":2,"y":23.8,"e":5.5},{"s":120,"x":2.51,"y":24.6,"e":5.5},{"s":120,"x":3.16,"y":25.5,"e":5.5},{"s":120,"x":3.98,"y":26.5,"e":6},{"s":120,"x":5.01,"y":27.5,"e":6},{"s":120,"x":6.31,"y":28.5,"e":6},{"s":120,"x":7.94,"y":29.3,"e":6},{"s":120,"x":10,"y":30.2,"e":6},{"s":120,"x":12.6,"y":33,"e":10},{"s":120,"x":15.8,"y":36.5,"e":10},{"s":120,"x":20,"y":41,"e":10},{"s":120,"x":25.1,"y":45,"e":10},{"s":120,"x":31.6,"y":48.5,"e":10},{"s":120,"x":39.8,"y":52,"e":14},{"s":120,"x":50.1,"y":57,"e":14},{"s":120,"x":63.1,"y":63,"e":14},{"s":120,"x":79.4,"y":71,"e":14},{"s":120,"x":100,"y":76.3,"e":14},{"s":120,"x":112,"y":77,"e":14},{"s":120,"x":129,"y":100,"e":2},
{"s":180,"x":0.00126,"y":0.7,"e":1},{"s":180,"x":0.00158,"y":0.7,"e":1},{"s":180,"x":0.002,"y":0.8,"e":1},{"s":180,"x":0.00251,"y":0.9,"e":1},{"s":180,"x":0.00316,"y":1.1,"e":1},{"s":180,"x":0.00398,"y":1.3,"e":1.5},{"s":180,"x":0.00501,"y":1.6,"e":1.5},{"s":180,"x":0.00631,"y":2,"e":1.5},{"s":180,"x":0.00794,"y":2.4,"e":1.5},{"s":180,"x":0.01,"y":2.9,"e":2},{"s":180,"x":0.0126,"y":3.5,"e":2},{"s":180,"x":0.0158,"y":4.2,"e":2},{"s":180,"x":0.02,"y":5,"e":2},{"s":180,"x":0.0251,"y":5.8,"e":2},{"s":180,"x":0.0316,"y":6.6,"e":3},{"s":180,"x":0.0398,"y":7.5,"e":3},{"s":180,"x":0.0501,"y":8.4,"e":3},{"s":180,"x":0.0631,"y":9.3,"e":3},{"s":180,"x":0.0794,"y":10.2,"e":3},{"s":180,"x":0.1,"y":11.1,"e":4},{"s":180,"x":0.126,"y":12.3,"e":4},{"s":180,"x":0.158,"y":13.8,"e":4},{"s":180,"x":0.2,"y":14.6,"e":4},{"s":180,"x":0.251,"y":15.3,"e":4},{"s":180,"x":0.316,"y":16.2,"e":5},{"s":180,"x":0.398,"y":17.1,"e":5},{"s":180,"x":0.501,"y":18,"e":5},{"s":180,"x":0.631,"y":19,"e":5},{"s":180,"x":0.794,"y":20,"e":5},{"s":180,"x":1,"y":21.5,"e":5.5},{"s":180,"x":1.26,"y":22.7,"e":5.5},{"s":180,"x":1.58,"y":23.8,"e":5.5},{"s":180,"x":2,"y":24.8,"e":5.5},{"s":180,"x":2.51,"y":25.7,"e":5.5},{"s":180,"x":3.16,"y":26.5,"e":5.5},{"s":180,"x":3.98,"y":27.6,"e":6},{"s":180,"x":5.01,"y":28.8,"e":6},{"s":180,"x":6.31,"y":30,"e":6},{"s":180,"x":7.94,"y":31.5,"e":6},{"s":180,"x":10,"y":33.5,"e":6},{"s":180,"x":12.6,"y":36,"e":10},{"s":180,"x":15.8,"y":39,"e":10},{"s":180,"x":20,"y":42.5,"e":10},{"s":180,"x":25.1,"y":47,"e":10},{"s":180,"x":31.6,"y":52,"e":10},{"s":180,"x":39.8,"y":57.5,"e":14},{"s":180,"x":50.1,"y":60.5,"e":14},{"s":180,"x":63.1,"y":64,"e":14},{"s":180,"x":79.4,"y":67.3,"e":14},{"s":180,"x":100,"y":69,"e":14},{"s":180,"x":107,"y":72,"e":14},{"s":180,"x":115,"y":82,"e":14},{"s":180,"x":129,"y":100,"e":2},
{"s":240,"x":0.00126,"y":1.2,"e":1.5},{"s":240,"x":0.00158,"y":1.3,"e":1.5},{"s":240,"x":0.002,"y":1.5,"e":1.5},{"s":240,"x":0.00251,"y":2.6,"e":1.5},{"s":240,"x":0.00316,"y":3.2,"e":1.5},{"s":240,"x":0.00398,"y":3.8,"e":2.5},{"s":240,"x":0.00501,"y":4.6,"e":2.5},{"s":240,"x":0.00631,"y":5.8,"e":2.5},{"s":240,"x":0.00794,"y":7.2,"e":2.5},{"s":240,"x":0.01,"y":8.7,"e":4},{"s":240,"x":0.0126,"y":10,"e":4},{"s":240,"x":0.0158,"y":11.3,"e":4},{"s":240,"x":0.02,"y":12.5,"e":4},{"s":240,"x":0.0251,"y":13.8,"e":4},{"s":240,"x":0.0316,"y":15,"e":5.5},{"s":240,"x":0.0398,"y":16.5,"e":5.5},{"s":240,"x":0.0501,"y":18,"e":5.5},{"s":240,"x":0.0631,"y":19.5,"e":5.5},{"s":240,"x":0.0794,"y":21,"e":5.5},{"s":240,"x":0.1,"y":22.3,"e":7},{"s":240,"x":0.126,"y":23.8,"e":7},{"s":240,"x":0.158,"y":25,"e":7},{"s":240,"x":0.2,"y":26.3,"e":7},{"s":240,"x":0.251,"y":27.5,"e":7},{"s":240,"x":0.316,"y":28.8,"e":8},{"s":240,"x":0.398,"y":29.8,"e":8},{"s":240,"x":0.501,"y":30.7,"e":8},{"s":240,"x":0.631,"y":31.5,"e":8},{"s":240,"x":0.794,"y":32.3,"e":8},{"s":240,"x":1,"y":33,"e":8.5},{"s":240,"x":1.26,"y":34,"e":8.5},{"s":240,"x":1.58,"y":35,"e":8.5},{"s":240,"x":2,"y":36.1,"e":8.5},{"s":240,"x":2.51,"y":37.2,"e":8.5},{"s":240,"x":3.16,"y":38.2,"e":8.5},{"s":240,"x":3.98,"y":39.3,"e":9.5},{"s":240,"x":5.01,"y":40.3,"e":9.5},{"s":240,"x":6.31,"y":41.4,"e":9.5},{"s":240,"x":7.94,"y":42.5,"e":9.5},{"s":240,"x":10,"y":43.5,"e":9.5},{"s":240,"x":12.6,"y":44.8,"e":12},{"s":240,"x":15.8,"y":46.2,"e":12},{"s":240,"x":20,"y":48.5,"e":12},{"s":240,"x":25.1,"y":52.5,"e":12},{"s":240,"x":31.6,"y":56.5,"e":12},{"s":240,"x":39.8,"y":62,"e":16},{"s":240,"x":50.1,"y":67.5,"e":16},{"s":240,"x":63.1,"y":73,"e":16},{"s":240,"x":79.4,"y":75,"e":16},{"s":240,"x":100,"y":76.5,"e":16},{"s":240,"x":112,"y":77,"e":16},{"s":240,"x":129,"y":100,"e":2}
]
},
"concat":[
{
"width":540,"height":403,
"data":{"name":"a"},
"title":{"text":"(a)","orient":"bottom","font":"Open Sans","fontSize":20,"fontWeight":"normal","color":"#000","offset":6,"anchor":"middle"},
"encoding":{
"x":{"field":"x","type":"quantitative","scale":{"type":"log","domain":[0.001,369],"nice":false},
"axis":{"title":"Particle size (mm²)","titleFont":"Liberation Serif","titleFontSize":18.5,"titleFontWeight":"normal","titleColor":"#000","titlePadding":14,
"labelFont":"Liberation Serif","labelFontSize":18,"labelColor":"#000","labelPadding":4,"tickSize":6,"tickWidth":1.3,"domainColor":"#595959","domainWidth":1.3,"tickColor":"#595959",
"values":[0.001,0.002,0.003,0.004,0.005,0.006,0.007,0.008,0.009,0.01,0.02,0.03,0.04,0.05,0.06,0.07,0.08,0.09,0.1,0.2,0.3,0.4,0.5,0.6,0.7,0.8,0.9,1,2,3,4,5,6,7,8,9,10,20,30,40,50,60,70,80,90,100,200,300],
"labelExpr":"abs(log(datum.value)/LN10 - round(log(datum.value)/LN10)) < 0.001 ? format(datum.value, '.2f') : ''",
"labelOverlap":false,"labelFlush":false,"labelBound":false,
"tickOpacity":{"condition":{"test":"abs(log(datum.value)/LN10 - round(log(datum.value)/LN10)) < 0.001","value":1},"value":0},
"grid":true,"gridWidth":1.3,"gridColor":{"condition":{"test":"abs(log(datum.value)/LN10 - round(log(datum.value)/LN10)) < 0.001","value":"#d9d9d9"},"value":"#efefef"}}},
"y":{"field":"y","type":"quantitative","scale":{"domain":[0,120],"nice":false,"zero":true},
"axis":{"title":"Cumulative surface area (%)","titleFont":"Liberation Serif","titleFontSize":18.5,"titleFontWeight":"normal","titleColor":"#000","titlePadding":15,
"labelFont":"Liberation Serif","labelFontSize":18,"labelColor":"#000","labelPadding":6,"tickSize":6,"tickWidth":1.3,"domainColor":"#595959","domainWidth":1.3,"tickColor":"#595959",
"values":[0,4,8,12,16,20,24,28,32,36,40,44,48,52,56,60,64,68,72,76,80,84,88,92,96,100,104,108,112,116,120],
"labelExpr":"datum.value % 20 === 0 ? datum.label : ''","labelOverlap":false,
"tickOpacity":{"condition":{"test":"datum.value % 20 === 0","value":1},"value":0},
"grid":true,"gridWidth":1.3,"gridColor":{"condition":{"test":"datum.value % 20 === 0","value":"#d9d9d9"},"value":"#efefef"}}}
},
"layer":[
{"mark":{"type":"errorbar","ticks":{"size":8},"color":"#595959","thickness":1.4,"clip":true},
"encoding":{"yError":{"field":"e"}}},
{"mark":{"type":"line","strokeWidth":3.5,"clip":true,"point":{"filled":true,"size":28}},
"encoding":{"color":{"field":"s","type":"nominal","scale":{"domain":[0,10,20,40,60,120,180,240],"range":["#FF0000","#FFC000","#C55A11","#92D050","#00B050","#00B0F0","#0070C0","#7030A0"]},
"legend":{"orient":"none","legendX":36,"legendY":2,"title":null,"padding":0,"labelFont":"Liberation Serif","labelFontSize":16,"labelColor":"#000","labelOffset":14.5,"labelLimit":0,
"labelExpr":"datum.label + ' min'","symbolType":"M-2.42,0L2.42,0M-0.32,0A0.32,0.32,0,1,0,0.32,0A0.32,0.32,0,1,0,-0.32,0Z","symbolSize":361,"symbolStrokeWidth":3,"rowPadding":-1}}}}
]
},
{
"width":540,"height":399,
"data":{"name":"b"},
"title":{"text":"(b)","orient":"bottom","font":"Open Sans","fontSize":20,"fontWeight":"normal","color":"#000","offset":9,"anchor":"middle"},
"encoding":{
"x":{"field":"x","type":"quantitative","scale":{"type":"log","domain":[0.001,410],"nice":false},
"axis":{"title":"Particle size (mm²)","titleFont":"Liberation Serif","titleFontSize":18.5,"titleFontWeight":"normal","titleColor":"#000","titlePadding":10,
"labelFont":"Liberation Serif","labelFontSize":18,"labelColor":"#000","labelPadding":8,"tickSize":6,"tickWidth":1.3,"domainColor":"#000","domainWidth":1.3,"tickColor":"#000",
"values":[0.001,0.002,0.003,0.004,0.005,0.006,0.007,0.008,0.009,0.01,0.02,0.03,0.04,0.05,0.06,0.07,0.08,0.09,0.1,0.2,0.3,0.4,0.5,0.6,0.7,0.8,0.9,1,2,3,4,5,6,7,8,9,10,20,30,40,50,60,70,80,90,100,200,300,400],
"labelExpr":"abs(log(datum.value)/LN10 - round(log(datum.value)/LN10)) < 0.001 ? format(datum.value, '.2f') : ''",
"labelOverlap":false,"labelFlush":false,"labelBound":false,
"tickOpacity":{"condition":{"test":"abs(log(datum.value)/LN10 - round(log(datum.value)/LN10)) < 0.001","value":1},"value":0},
"grid":true,"gridWidth":1.3,"gridColor":{"condition":{"test":"abs(log(datum.value)/LN10 - round(log(datum.value)/LN10)) < 0.001","value":"#d9d9d9"},"value":"#efefef"}}},
"y":{"field":"y","type":"quantitative","scale":{"domain":[0,120],"nice":false,"zero":true},
"axis":{"title":"Cumulative surface area (%)","titleFont":"Liberation Serif","titleFontSize":18.5,"titleFontWeight":"normal","titleColor":"#000","titlePadding":15,
"labelFont":"Liberation Serif","labelFontSize":18,"labelColor":"#000","labelPadding":6,"tickSize":6,"tickWidth":1.3,"domainColor":"#000","domainWidth":1.3,"tickColor":"#000",
"values":[0,4,8,12,16,20,24,28,32,36,40,44,48,52,56,60,64,68,72,76,80,84,88,92,96,100,104,108,112,116,120],
"labelExpr":"datum.value % 20 === 0 ? datum.label : ''","labelOverlap":false,
"tickOpacity":{"condition":{"test":"datum.value % 20 === 0","value":1},"value":0},
"grid":true,"gridWidth":1.3,"gridColor":{"condition":{"test":"datum.value % 20 === 0","value":"#d9d9d9"},"value":"#efefef"}}}
},
"layer":[
{"mark":{"type":"errorbar","ticks":{"size":8},"color":"#595959","thickness":1.4,"clip":true},
"encoding":{"yError":{"field":"e"}}},
{"mark":{"type":"line","strokeWidth":3.5,"clip":true,"point":{"filled":true,"size":28}},
"encoding":{"color":{"field":"s","type":"nominal","scale":{"domain":[0,10,20,40,60,120,180,240],"range":["#FF0000","#FFC000","#C55A11","#92D050","#00B050","#00B0F0","#0070C0","#7030A0"]},
"legend":{"orient":"none","legendX":41,"legendY":1,"title":null,"padding":0,"labelFont":"Liberation Serif","labelFontSize":16,"labelColor":"#000","labelOffset":13.5,"labelLimit":0,
"labelExpr":"datum.label + ' min'","symbolType":"M-2.41,0L2.41,0M-0.31,0A0.31,0.31,0,1,0,0.31,0A0.31,0.31,0,1,0,-0.31,0Z","symbolSize":380,"symbolStrokeWidth":3,"rowPadding":-0.7}}}}
]
}
]
}
